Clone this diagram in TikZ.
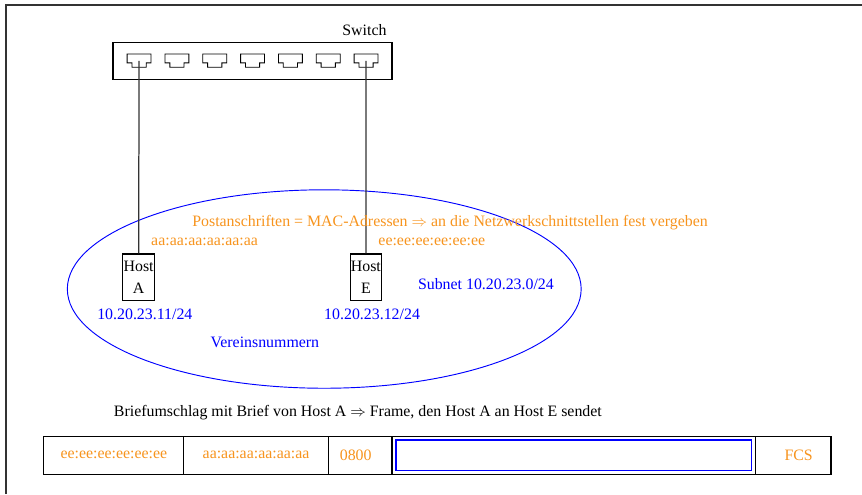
\documentclass[tikz,border=0pt]{standalone}
\usepackage{fontspec}
\setmainfont{Liberation Serif}
\usetikzlibrary{positioning,shapes.geometric}
\definecolor{macorange}{RGB}{247,148,30}

\begin{document}
\begin{tikzpicture}[
    font=\fontsize{10.2pt}{12.4pt}\selectfont,
    box/.style={draw, line width=0.7pt, inner sep=0pt, outer sep=0pt},
    host/.style={draw, line width=0.7pt, align=center, inner sep=0.5pt, minimum width=0.7cm, minimum height=1.04cm},
    mac/.style={text=macorange},
    ip/.style={text=blue},
    cable/.style={line width=0.8pt, draw=black!80},
    field/.style={draw, line width=0.7pt, outer sep=0pt, minimum height=0.86cm, text=macorange},
    payload/.style={draw=blue, thick, minimum width=8.02cm, minimum height=0.68cm}
]
\useasboundingbox (0,0) rectangle (19.46,11.155);
\draw[line width=0.8pt, black!80] (0.135,0) -- (0.135,11.04) -- (19.46,11.04);

\node[box, minimum width=6.3cm, minimum height=0.83cm] (sw) at (5.70,9.77) {};
\node[above left=0.05cm and 0cm of sw.north east] (swlabel) {Switch};
\foreach \i in {1,...,7} {
    \draw[line width=0.55pt] (3.14+0.854*\i-0.854,9.935) ++(-0.27,0) -- ++(0.54,0) -- ++(0,-0.2) -- ++(-0.11,0) -- ++(0,-0.1) -- ++(-0.32,0) -- ++(0,0.1) -- ++(-0.11,0) -- cycle;
    \coordinate (port\i) at (3.14+0.854*\i-0.854,9.78);
}

\node[draw=blue, semithick, ellipse, minimum width=11.6cm, minimum height=4.48cm] (lan) at (7.32,4.63) {};

\node[host] (hostA) at (3.13,4.90) {Host\\[2pt]A};
\node[host] (hostE) at (8.26,4.90) {Host\\[2pt]E};

\draw[cable] (port1) -- (hostA.north);
\draw[cable] (port7) -- (hostE.north);

\node[mac, above right=0.04cm and 0.16cm of hostA.north] (macA) {aa:aa:aa:aa:aa:aa};
\node[mac, above right=0.04cm and 0.16cm of hostE.north] (macE) {ee:ee:ee:ee:ee:ee};
\node[ip, below=0.06cm of hostA, xshift=0.14cm] (ipA) {10.20.23.11/24};
\node[ip, below=0.06cm of hostE, xshift=0.14cm] (ipE) {10.20.23.12/24};

\node[mac] (macnote) at (10.16,6.12) {Postanschriften = MAC-Adressen $\Rightarrow$ an die Netzwerkschnittstellen fest vergeben};
\node[ip] (subnet) at (10.97,4.74) {Subnet 10.20.23.0/24};
\node[ip] (vnr) at (5.98,3.43) {Vereinsnummern};

\node (caption) at (8.08,1.83) {Briefumschlag mit Brief von Host A $\Rightarrow$ Frame, den Host A an Host E sendet};

\node[field, minimum width=3.16cm, anchor=west] (dst) at (0.99,0.88) {ee:ee:ee:ee:ee:ee};
\node[field, minimum width=3.26cm, right=0pt of dst] (src) {aa:aa:aa:aa:aa:aa};
\node[field, minimum width=1.44cm, right=0pt of src] (type) {\hspace*{-0.2cm}0800};
\node[field, minimum width=8.20cm, right=0pt of type] (data) {};
\node[field, minimum width=1.71cm, right=0pt of data] (fcs) {\hspace*{0.25cm}FCS};
\node[payload] (letter) at (data) {};

\end{tikzpicture}
\end{document}
